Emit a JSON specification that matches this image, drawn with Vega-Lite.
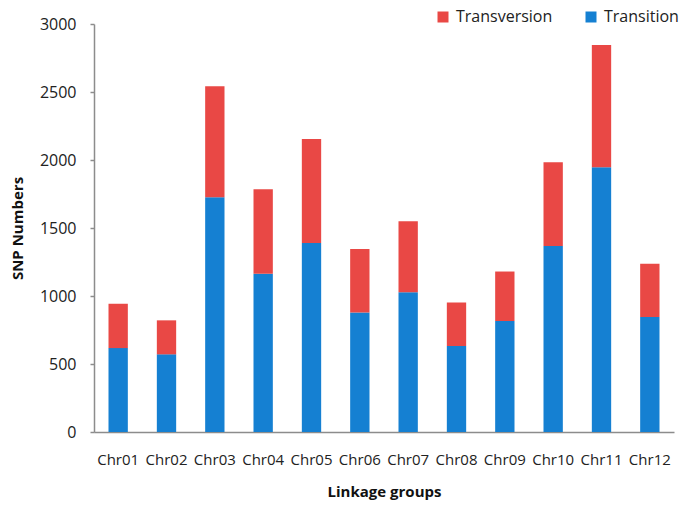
{
  "$schema": "https://vega.github.io/schema/vega-lite/v6.json",
  "autosize": {"type": "none"},
  "width": 580,
  "height": 408,
  "padding": {"left": 94, "top": 24, "right": 8, "bottom": 83},
  "background": "white",
  "data": {
    "values": [
      {"chr": "Chr01", "type": "Transition", "count": 617},
      {"chr": "Chr01", "type": "Transversion", "count": 326},
      {"chr": "Chr02", "type": "Transition", "count": 571},
      {"chr": "Chr02", "type": "Transversion", "count": 250},
      {"chr": "Chr03", "type": "Transition", "count": 1727},
      {"chr": "Chr03", "type": "Transversion", "count": 815},
      {"chr": "Chr04", "type": "Transition", "count": 1164},
      {"chr": "Chr04", "type": "Transversion", "count": 621},
      {"chr": "Chr05", "type": "Transition", "count": 1389},
      {"chr": "Chr05", "type": "Transversion", "count": 766},
      {"chr": "Chr06", "type": "Transition", "count": 879},
      {"chr": "Chr06", "type": "Transversion", "count": 466},
      {"chr": "Chr07", "type": "Transition", "count": 1028},
      {"chr": "Chr07", "type": "Transversion", "count": 522},
      {"chr": "Chr08", "type": "Transition", "count": 632},
      {"chr": "Chr08", "type": "Transversion", "count": 321},
      {"chr": "Chr09", "type": "Transition", "count": 816},
      {"chr": "Chr09", "type": "Transversion", "count": 364},
      {"chr": "Chr10", "type": "Transition", "count": 1367},
      {"chr": "Chr10", "type": "Transversion", "count": 617},
      {"chr": "Chr11", "type": "Transition", "count": 1947},
      {"chr": "Chr11", "type": "Transversion", "count": 899},
      {"chr": "Chr12", "type": "Transition", "count": 845},
      {"chr": "Chr12", "type": "Transversion", "count": 392}
    ]
  },
  "mark": {"type": "bar"},
  "encoding": {
    "x": {
      "field": "chr",
      "type": "nominal",
      "scale": {"paddingInner": 0.6, "paddingOuter": 0.3},
      "axis": {
        "title": "Linkage groups",
        "labelAngle": 0,
        "ticks": false,
        "domainColor": "#8c8c8c",
        "domainWidth": 1.5,
        "labelPadding": 20,
        "labelFont": "Open Sans",
        "labelFontSize": 15,
        "labelColor": "#222222",
        "titleFont": "Open Sans",
        "titleFontSize": 15,
        "titleFontWeight": "bold",
        "titleColor": "#111111",
        "titlePadding": 17
      }
    },
    "y": {
      "field": "count",
      "type": "quantitative",
      "stack": "zero",
      "scale": {"domain": [0, 3000], "nice": false},
      "axis": {
        "title": "SNP Numbers",
        "values": [0, 500, 1000, 1500, 2000, 2500, 3000],
        "format": "d",
        "grid": false,
        "domainColor": "#8c8c8c",
        "domainWidth": 1.5,
        "tickColor": "#8c8c8c",
        "tickSize": 4,
        "tickWidth": 1.5,
        "labelPadding": 14,
        "labelFont": "Open Sans",
        "labelFontSize": 16,
        "labelColor": "#222222",
        "titleFont": "Open Sans",
        "titleFontSize": 15,
        "titleFontWeight": "bold",
        "titleColor": "#111111",
        "titlePadding": 14
      }
    },
    "color": {
      "field": "type",
      "type": "nominal",
      "scale": {"domain": ["Transversion", "Transition"], "range": ["#E94845", "#1580D2"]},
      "legend": {
        "title": null,
        "orient": "none",
        "direction": "horizontal",
        "legendX": 341,
        "legendY": -15,
        "symbolType": "square",
        "symbolSize": 121,
        "symbolStrokeWidth": 0,
        "labelFont": "Open Sans",
        "labelFontSize": 16,
        "labelColor": "#222222",
        "labelOffset": 5,
        "columnPadding": 30
      }
    },
    "order": {"field": "type", "sort": "ascending"}
  },
  "config": {"view": {"stroke": null}}
}
